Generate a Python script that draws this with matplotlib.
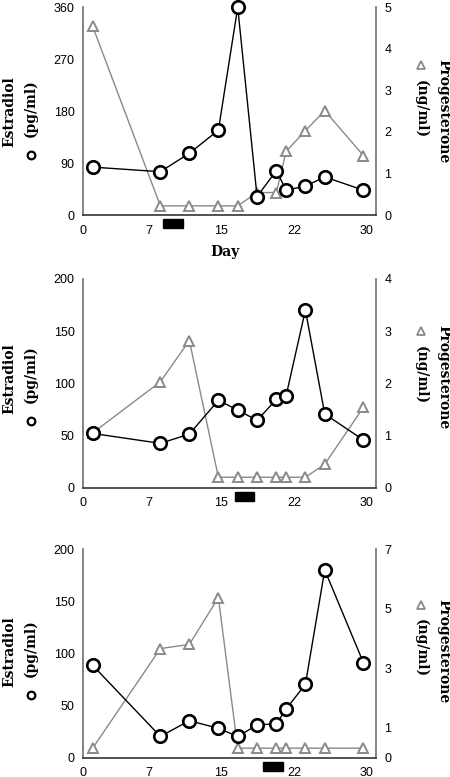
import matplotlib
matplotlib.use("Agg")
import matplotlib.pyplot as plt
import matplotlib.transforms as mtransforms
from matplotlib.patches import Rectangle

# sampling days (same for all three cycles)
days = [1, 8, 11, 14, 16, 18, 20, 21, 23, 25, 29]

# cycle 1
e2_1 = [83, 75, 107, 147, 360, 32, 77, 43, 50, 66, 43]
p4_1 = [4.54, 0.22, 0.22, 0.22, 0.22, 0.54, 0.54, 1.53, 2.03, 2.51, 1.43]
# cycle 2
e2_2 = [52, 42.5, 51.4, 83.7, 74.4, 64.5, 84.7, 87.9, 170.3, 70.6, 45.7]
p4_2 = [1.05, 2.03, 2.82, 0.2, 0.2, 0.2, 0.2, 0.2, 0.2, 0.45, 1.54]
# cycle 3
e2_3 = [88.5, 20.4, 35.5, 28.1, 20.4, 31.3, 32.6, 46.6, 70.3, 179.9, 91]
p4_3 = [0.32, 3.66, 3.8, 5.37, 0.32, 0.32, 0.32, 0.32, 0.32, 0.32, 0.32]

# black bars under the x axis (start day, end day)
bars = [(8.3, 10.3), (15.7, 17.7), (18.65, 20.65)]

x_ticks = [0, 6.8, 14.3, 21.9, 29.3]
x_labels = ["0", "7", "15", "22", "30"]

e2_ticks = [[0, 90, 180, 270, 360], [0, 50, 100, 150, 200], [0, 50, 100, 150, 200]]
p4_ticks = [[0, 1, 2, 3, 4, 5], [0, 1, 2, 3, 4], [0, 1, 3, 5, 7]]

# (bottom px, height px, label shift)
panels = [
    (e2_1, p4_1, e2_ticks[0], p4_ticks[0], bars[0], 215.0, 207.7, 0.0, True),
    (e2_2, p4_2, e2_ticks[1], p4_ticks[1], bars[1], 487.7, 208.7, 0.028, False),
    (e2_3, p4_3, e2_ticks[2], p4_ticks[2], bars[2], 757.7, 208.7, 0.012, False),
]

W, H = 450, 777
fig = plt.figure(figsize=(4.5, 7.77), dpi=100)

serif = ["DejaVu Serif"]
tick_font = "Liberation Sans"
grey = "#8a8a8a"
lab_kw = dict(ha="center", va="center", family=serif, fontweight="bold", fontsize=10)

for e2, p4, et, pt, bar, ybot, hgt, dy, show_day in panels:
    ax = fig.add_axes([83 / W, 1 - ybot / H, 293 / W, hgt / H])
    ax2 = ax.twinx()
    ax.set_zorder(ax2.get_zorder() + 1)
    ax.patch.set_visible(False)

    ax2.plot(days, p4, color=grey, lw=1.0, marker="^", ms=7.5,
             mfc="white", mec=grey, mew=1.4, clip_on=False)
    ax.plot(days, e2, color="black", lw=1.0, marker="o", ms=9,
            mfc="white", mec="black", mew=1.9, clip_on=False, zorder=5)

    ax.set_xlim(0, 30.3)
    ax.set_ylim(et[0], et[-1])
    ax2.set_ylim(pt[0], pt[-1])
    ax.set_yticks(et)
    ax2.set_yticks(pt)
    ax.set_xticks(x_ticks)
    ax.set_xticklabels(x_labels)

    for a in (ax, ax2):
        a.spines["top"].set_visible(False)
        a.tick_params(length=0, labelsize=9)
        for lab in a.get_xticklabels() + a.get_yticklabels():
            lab.set_fontfamily(tick_font)
    ax2.spines["left"].set_visible(False)
    ax2.spines["bottom"].set_visible(False)
    ax.spines["right"].set_visible(False)
    ax.spines["left"].set_color("#6e6e6e")
    ax2.spines["right"].set_color("#6e6e6e")
    ax.spines["bottom"].set_color("#333333")
    for s in ("left", "bottom"):
        ax.spines[s].set_linewidth(1.2)
    ax2.spines["right"].set_linewidth(1.2)
    ax.tick_params(axis="y", pad=6)
    ax2.tick_params(axis="y", pad=6)
    ax.tick_params(axis="x", pad=7)

    # black bar just below the axis
    trans = mtransforms.blended_transform_factory(ax.transData, ax.transAxes)
    ax.add_patch(Rectangle((bar[0], -0.063), bar[1] - bar[0], 0.043,
                           transform=trans, color="black", clip_on=False))

    # y labels
    ax.text(-0.25, 0.497 + dy, "Estradiol", transform=ax.transAxes, rotation=90, **lab_kw)
    ax.text(-0.178, 0.515 + dy, "(pg/ml)", transform=ax.transAxes, rotation=90, **lab_kw)
    ax.plot([-0.178], [0.29 + dy], transform=ax.transAxes, marker="o", ms=5.5,
            mfc="white", mec="black", mew=1.6, clip_on=False)
    ax2.text(1.228, 0.50 + dy, "Progesterone", transform=ax2.transAxes, rotation=270, **lab_kw)
    ax2.text(1.152, 0.512 + dy, "(ng/ml)", transform=ax2.transAxes, rotation=270, **lab_kw)
    ax2.plot([1.152], [0.722 + dy], transform=ax2.transAxes, marker="^", ms=5.5,
             mfc="white", mec=grey, mew=1.3, clip_on=False)

    if show_day:
        ax.text(0.485, -0.178, "Day", transform=ax.transAxes, **lab_kw)

fig.savefig("out.png", dpi=100)
